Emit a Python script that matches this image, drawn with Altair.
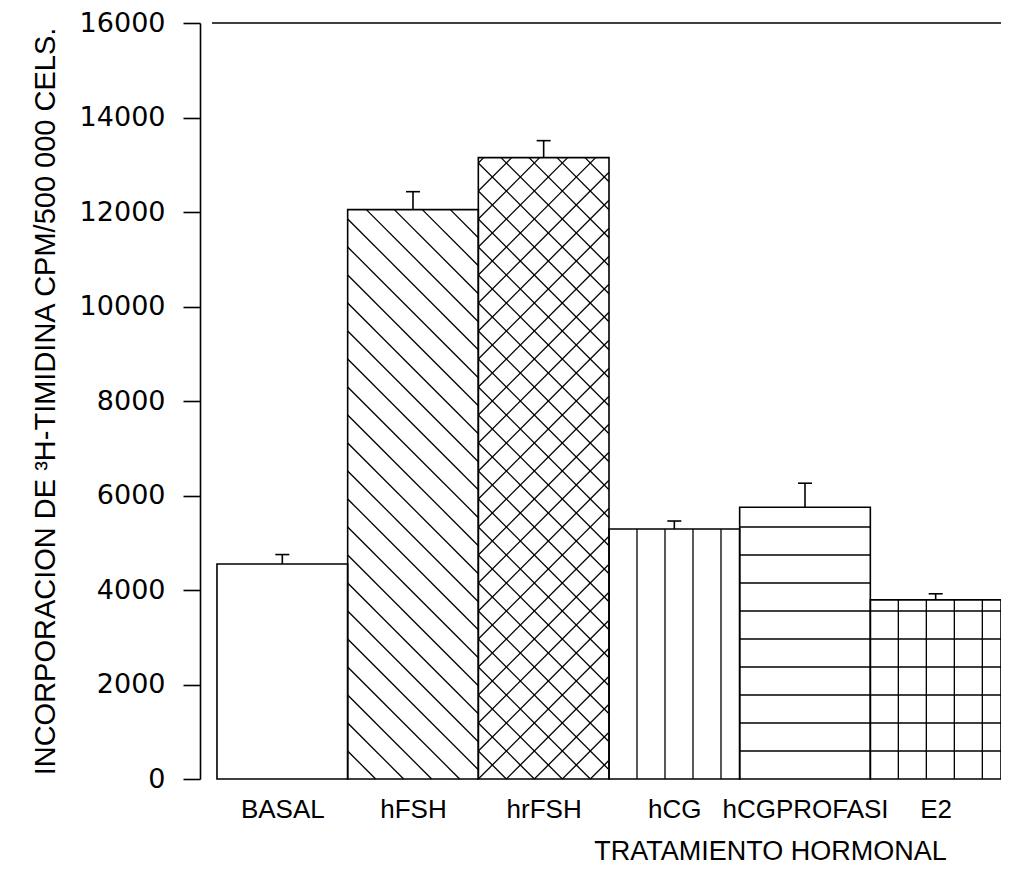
import altair as alt
import pandas as pd

# ---- data ----
categories = ["BASAL", "hFSH", "hrFSH", "hCG", "hCGPROFASI", "E2"]
values = [4550, 12050, 13150, 5290, 5750, 3790]
errors = [200, 380, 360, 170, 510, 130]
patterns = ["none", "back", "cross", "vert", "horiz", "grid"]
y_ticks = [0, 2000, 4000, 6000, 8000, 10000, 12000, 14000, 16000]

# ---- layout / style ----
W, H = 801, 756
YMAX = 16000
XMIN, XMAX = -0.63, 5.5
HATCH = 28.0  # hatch spacing in pixels
kx = W / (XMAX - XMIN)
ky = H / YMAX

idx = list(range(len(categories)))
df = pd.DataFrame({
    "cat": categories,
    "idx": idx,
    "v": values,
    "err": errors,
})
df["xl"] = df["idx"] - 0.5
df["xr"] = df["idx"] + 0.5
df["top"] = df["v"] + df["err"]
df["zero"] = 0

rows = []
for i, (v, p) in enumerate(zip(values, patterns)):
    L = i - 0.5
    w = kx * 1.0
    h = v * ky

    def add(u0, v0, u1, v1):
        rows.append({"x": L + u0 / kx, "y": v0 / ky, "x2": L + u1 / kx, "y2": v1 / ky})

    if p in ("back", "cross"):
        c = HATCH
        while c < w + h:
            u0 = max(0.0, c - h)
            u1 = min(w, c)
            add(u0, c - u0, u1, c - u1)
            c += HATCH
    if p == "cross":
        k = -int(w // HATCH)
        while k * HATCH < h:
            c = k * HATCH
            if -w < c < h:
                u0 = max(0.0, -c)
                u1 = min(w, h - c)
                add(u0, u0 + c, u1, u1 + c)
            k += 1
    if p in ("vert", "grid"):
        u = HATCH
        while u < w - 2:
            add(u, 0, u, h)
            u += HATCH
    if p in ("horiz", "grid"):
        vv = HATCH
        while vv < h - 2:
            add(0, vv, w, vv)
            vv += HATCH
hdf = pd.DataFrame(rows)

xs = alt.Scale(domain=[XMIN, XMAX], nice=False, zero=False)
ys = alt.Scale(domain=[0, YMAX], nice=False)

label_expr = "[" + ",".join("'%s'" % c for c in categories) + "][datum.value]"

xaxis = alt.Axis(
    values=idx, labelExpr=label_expr, domain=False, ticks=False, grid=False,
    labelFont="Liberation Sans", labelFontSize=26, labelColor="black",
    labelPadding=17, labelFlush=False, labelOverlap=False, labelBaseline="top",
    title="TRATAMIENTO HORMONAL", titleFont="Liberation Sans", titleFontSize=27,
    titleFontWeight="normal", titleColor="black", titleX=570, titleY=72,
    titleAlign="center", titleBaseline="middle",
)
yaxis = alt.Axis(
    values=y_ticks, format="d", grid=False,
    domainColor="black", domainWidth=1.6,
    tickColor="black", tickSize=17, tickWidth=1.6,
    labelFont="DejaVu Sans", labelFontSize=27, labelColor="black", labelPadding=18,
    title="INCORPORACION DE ³H-TIMIDINA CPM/500 000 CELS.",
    titleFont="Liberation Sans", titleFontSize=29, titleFontWeight="normal",
    titleColor="black", titleX=-155, titleY=H / 2, titleAngle=270,
    titleAlign="center", titleBaseline="middle",
)

bars_fill = alt.Chart(df).mark_rect(fill="white").encode(
    x=alt.X("xl:Q", scale=xs, axis=xaxis),
    x2="xr:Q",
    y=alt.Y("v:Q", scale=ys, axis=yaxis),
    y2="zero:Q",
)

hatch = alt.Chart(hdf).mark_rule(color="black", strokeWidth=1.3).encode(
    x=alt.X("x:Q", scale=xs, axis=xaxis),
    x2="x2:Q",
    y=alt.Y("y:Q", scale=ys, axis=yaxis),
    y2="y2:Q",
)

outline = alt.Chart(df).mark_rect(fill="transparent", stroke="black", strokeWidth=1.6).encode(
    x=alt.X("xl:Q", scale=xs, axis=xaxis),
    x2="xr:Q",
    y=alt.Y("v:Q", scale=ys, axis=yaxis),
    y2="zero:Q",
)

stems = alt.Chart(df).mark_rule(color="black", strokeWidth=1.6).encode(
    x=alt.X("idx:Q", scale=xs, axis=xaxis),
    y=alt.Y("v:Q", scale=ys, axis=yaxis),
    y2="top:Q",
)

caps = alt.Chart(df).mark_tick(orient="horizontal", size=14, thickness=1.6, color="black", opacity=1).encode(
    x=alt.X("idx:Q", scale=xs, axis=xaxis),
    y=alt.Y("top:Q", scale=ys, axis=yaxis),
)

frame = alt.Chart(pd.DataFrame({"a": [0]})).mark_rule(color="black", strokeWidth=1.6).encode(
    x=alt.value(12), x2=alt.value(W), y=alt.value(0)
)

chart = alt.layer(bars_fill, hatch, outline, stems, caps, frame).properties(
    width=W, height=H,
    padding={"left": 192, "top": 15, "right": 0, "bottom": 90},
    autosize=alt.AutoSizeParams(type="none"),
    background="white",
).configure_view(stroke=None)

chart.save("out.html", embed_options={"renderer": "svg", "actions": False})
